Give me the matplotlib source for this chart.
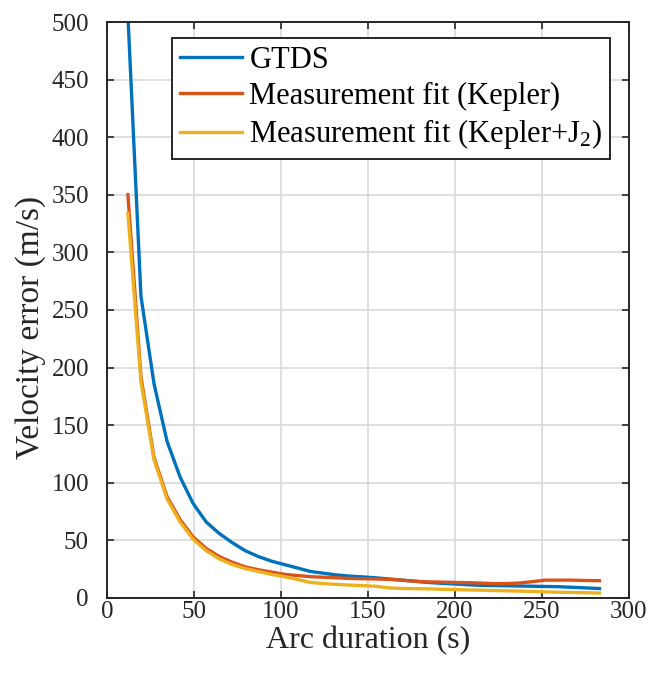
# Velocity error versus arc duration, three estimation approaches
import matplotlib.pyplot as plt

# Arc duration samples (s)
arc = [12, 19.5, 27, 34.5, 42, 49.5, 57, 64.5, 72, 79.5, 87, 94.5, 102, 109.5,
       117, 124.5, 132, 139.5, 147, 154.5, 162, 169.5, 177, 184.5, 192, 199.5,
       207, 214.5, 222, 229.5, 237, 244.5, 252, 259.5, 267, 274.5, 283]

# Velocity error (m/s) per series
gtds = [506, 262, 186, 136, 105, 82, 66, 56, 48, 41, 36, 32, 29, 26,
        23, 21.5, 20, 19, 18.3, 17.5, 16.5, 15.5, 14.5, 13.5, 12.8, 12.2,
        11.5, 11, 10.8, 10.6, 10.4, 10.2, 10, 9.8, 9.3, 8.8, 8.2]
kepler = [350, 192, 122, 88, 68, 53, 43, 36, 31, 27, 24.5, 22.5, 20.5, 19.5,
          18.5, 18, 17.5, 17, 16.7, 16.5, 16.2, 15.5, 14.5, 14, 13.8, 13.5,
          13.3, 13, 12.5, 12.5, 13, 14.2, 15.5, 15.5, 15.5, 15.2, 15]
kepler_j2 = [334, 188, 120, 86, 66, 51, 41, 34, 29, 25.5, 23, 20.5, 18.5, 16,
             13.5, 12.5, 11.8, 11.2, 10.7, 10.2, 8.8, 8.3, 8.1, 7.9, 7.6, 7.3,
             7, 6.8, 6.5, 6.2, 6, 5.6, 5.3, 5, 4.8, 4.6, 4.3]

labels = ['GTDS', 'Measurement fit (Kepler)', 'Measurement fit (Kepler+J$_2$)']
colors = ['#0072BD', '#D95319', '#EDB120']

plt.rcParams['font.family'] = ['Liberation Serif', 'DejaVu Serif']
plt.rcParams['mathtext.fontset'] = 'custom'
plt.rcParams['mathtext.rm'] = 'Liberation Serif'
plt.rcParams['mathtext.it'] = 'Liberation Serif'

fig = plt.figure(figsize=(6.51, 6.77), dpi=100)
ax = fig.add_axes([0.1644, 0.1167, 0.8018, 0.8508])

for y, c, lab in zip([gtds, kepler, kepler_j2], colors, labels):
    ax.plot(arc, y, color=c, lw=2.4, label=lab)

ax.set_xlim(0, 300)
ax.set_ylim(0, 500)
ax.set_xticks(range(0, 301, 50))
ax.set_yticks(range(0, 501, 50))
ax.grid(True, color='#d9d9d9', lw=1.2)
ax.set_axisbelow(True)
ax.tick_params(direction='in', top=True, right=True, length=5, width=1.2,
               labelsize=18, colors='#262626')
ax.tick_params(axis='y', pad=13)
ax.tick_params(axis='x', pad=2)
for s in ax.spines.values():
    s.set_linewidth(1.4)
    s.set_color('#262626')

ax.set_xlabel('Arc duration (s)', fontsize=23, color='#262626', labelpad=2)
ax.set_ylabel('Velocity error (m/s)', fontsize=24, color='#262626')
ax.yaxis.set_label_coords(-0.117, 0.47)

leg = ax.legend(loc='upper left', bbox_to_anchor=(0.1245, 0.972), fontsize=22,
                frameon=True, fancybox=False, edgecolor='#262626',
                handlelength=2.05, handletextpad=0.23, borderpad=0.25,
                labelspacing=0.22, borderaxespad=0)
leg.get_frame().set_linewidth(1.4)
leg.get_frame().set_alpha(1)

fig.savefig('out.png', dpi=100)
